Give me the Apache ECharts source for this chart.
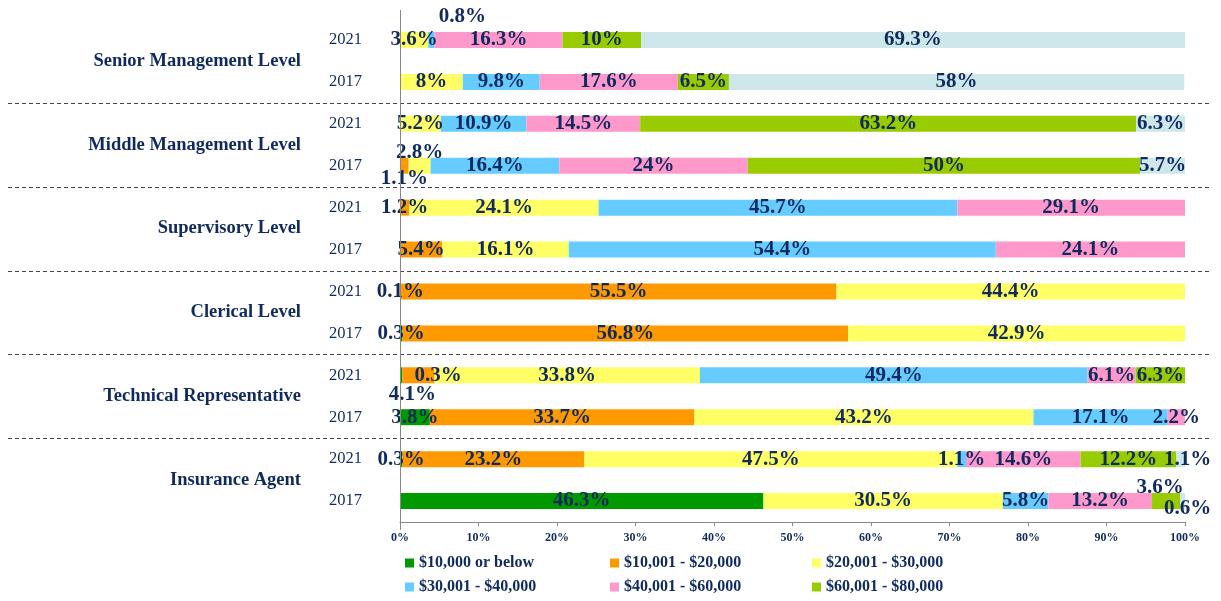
<!DOCTYPE html>
<html>
<head>
<meta charset="utf-8">
<script src="https://cdn.jsdelivr.net/npm/echarts@6/dist/echarts.min.js"></script>
<style>html,body{margin:0;padding:0;background:#fff}#c{width:1221px;height:601px}</style>
</head>
<body>
<div id="c"></div>
<script>
// ---- data ----
const groups = ['Senior Management Level', 'Middle Management Level', 'Supervisory Level', 'Clerical Level', 'Technical Representative', 'Insurance Agent'];
const years = ['2021', '2017'];
const xTicks = [0, 10, 20, 30, 40, 50, 60, 70, 80, 90, 100];
const seriesNames = ['$10,000 or below', '$10,001 - $20,000', '$20,001 - $30,000', '$30,001 - $40,000', '$40,001 - $60,000', '$60,001 - $80,000', '$80,001 or above'];
// row order: Senior 2021, Senior 2017, Middle 2021, Middle 2017, Supervisory 2021, Supervisory 2017,
// Clerical 2021, Clerical 2017, Technical 2021, Technical 2017, Insurance 2021, Insurance 2017
const below10k = [0, 0, 0, 0, 0, 0, 0.1, 0.3, 0.3, 3.8, 0.3, 46.3];
const k10to20  = [0, 0, 0, 1.1, 1.2, 5.4, 55.5, 56.8, 4.1, 33.7, 23.2, 0];
const k20to30  = [3.6, 8, 5.2, 2.8, 24.1, 16.1, 44.4, 42.9, 33.8, 43.2, 47.5, 30.5];
const k30to40  = [0.8, 9.8, 10.9, 16.4, 45.7, 54.4, 0, 0, 49.4, 17.1, 1.1, 5.8];
const k40to60  = [16.3, 17.6, 14.5, 24, 29.1, 24.1, 0, 0, 6.1, 2.2, 14.6, 13.2];
const k60to80  = [10, 6.5, 63.2, 50, 0, 0, 0, 0, 6.3, 0, 12.2, 3.6];
const above80  = [69.3, 58, 6.3, 5.7, 0, 0, 0, 0, 0, 0, 1.1, 0.6];
const seriesValues = [below10k, k10to20, k20to30, k30to40, k40to60, k60to80, above80];

// ---- styles ----
const colors = ['#009900', '#FF9900', '#FFFF66', '#66CCFF', '#FF99CC', '#99CC00', '#CDE7EB'];
const navy = '#102A5E';
const serif = '"Liberation Serif", "DejaVu Serif", serif';
// label nudges [series, row, dx, dy]
const labelNudges = [
  [3, 0, 31, -23], [1, 3, 0, 13], [2, 3, 0, -13], [0, 8, 37, 0], [1, 8, -6, 19],
  [5, 11, -6, -13], [6, 11, 5, 8], [6, 10, 7, 0]
];

const rowKeys = [];
groups.forEach(g => years.forEach(y => rowKeys.push(g + '|' + y)));

const series = seriesValues.map((vals, si) => ({
  name: seriesNames[si],
  type: 'bar',
  stack: 'total',
  barWidth: 16,
  yAxisIndex: 0,
  itemStyle: { color: colors[si] },
  label: {
    show: true,
    position: 'inside',
    color: navy,
    fontFamily: serif,
    fontWeight: 'bold',
    fontSize: 21,
    formatter: p => (p.value > 0 ? p.value + '%' : '')
  },
  data: vals.map((v, ri) => {
    const n = labelNudges.find(a => a[0] === si && a[1] === ri);
    if (n) return { value: v, label: { offset: [n[2], n[3]] } };
    return v;
  })
}));

const legendBase = {
  orient: 'vertical',
  padding: 0,
  height: 60,
  itemWidth: 9,
  itemHeight: 9,
  itemGap: 8,
  icon: 'rect',
  textStyle: { color: navy, fontFamily: serif, fontWeight: 'bold', fontSize: 16 }
};

const chart = echarts.init(document.getElementById('c'));
chart.setOption({
  animation: false,
  backgroundColor: '#fff',
  grid: { left: 400, right: 36, top: 19, bottom: 79 },
  legend: [
    Object.assign({}, legendBase, { left: 405, top: 555, data: [seriesNames[0], seriesNames[3]] }),
    Object.assign({}, legendBase, { left: 610, top: 555, data: [seriesNames[1], seriesNames[4]] }),
    Object.assign({}, legendBase, { left: 812, top: 555, data: [seriesNames[2], seriesNames[5]] })
  ],
  xAxis: {
    type: 'value',
    min: xTicks[0],
    max: xTicks[xTicks.length - 1],
    interval: xTicks[1] - xTicks[0],
    axisLine: { show: true, lineStyle: { color: '#888' } },
    axisTick: { show: true, length: 4, lineStyle: { color: '#888' } },
    splitLine: { show: false },
    axisLabel: { color: navy, fontFamily: serif, fontWeight: 'bold', fontSize: 12, margin: 10, formatter: '{value}%' }
  },
  yAxis: [
    {
      type: 'category',
      inverse: true,
      data: rowKeys,
      axisLine: { show: false },
      axisTick: { show: false },
      axisLabel: { color: navy, fontFamily: serif, fontSize: 16.5, margin: 38, formatter: v => v.split('|')[1] }
    },
    {
      type: 'category',
      inverse: true,
      position: 'left',
      data: groups,
      axisLine: { show: false },
      axisTick: { show: false },
      axisLabel: { color: navy, fontFamily: serif, fontWeight: 'bold', fontSize: 18.5, margin: 99 }
    }
  ],
  series: series
});

// dashed separators between groups and the vertical axis line, positioned via the scales
const gfx = [];
for (let g = 1; g < groups.length; g++) {
  const yA = chart.convertToPixel({ yAxisIndex: 0 }, rowKeys[2 * g - 1]);
  const yB = chart.convertToPixel({ yAxisIndex: 0 }, rowKeys[2 * g]);
  const y = Math.round((yA + yB) / 2) + 0.5;
  gfx.push({
    type: 'line',
    silent: true,
    z: 0,
    shape: { x1: 8, y1: y, x2: 1210, y2: y },
    style: { stroke: '#444', lineWidth: 1, lineDash: [4, 3] }
  });
}
const x0 = Math.round(chart.convertToPixel({ xAxisIndex: 0 }, xTicks[0])) + 0.5;
const yTop = chart.convertToPixel({ yAxisIndex: 0 }, rowKeys[0]);
const yBot = chart.convertToPixel({ yAxisIndex: 0 }, rowKeys[rowKeys.length - 1]);
gfx.push({
  type: 'line',
  silent: true,
  z: 5,
  shape: { x1: x0, y1: yTop - 30, x2: x0, y2: yBot + 29 },
  style: { stroke: '#888', lineWidth: 1 }
});
chart.setOption({ graphic: gfx });
</script>
</body>
</html>
